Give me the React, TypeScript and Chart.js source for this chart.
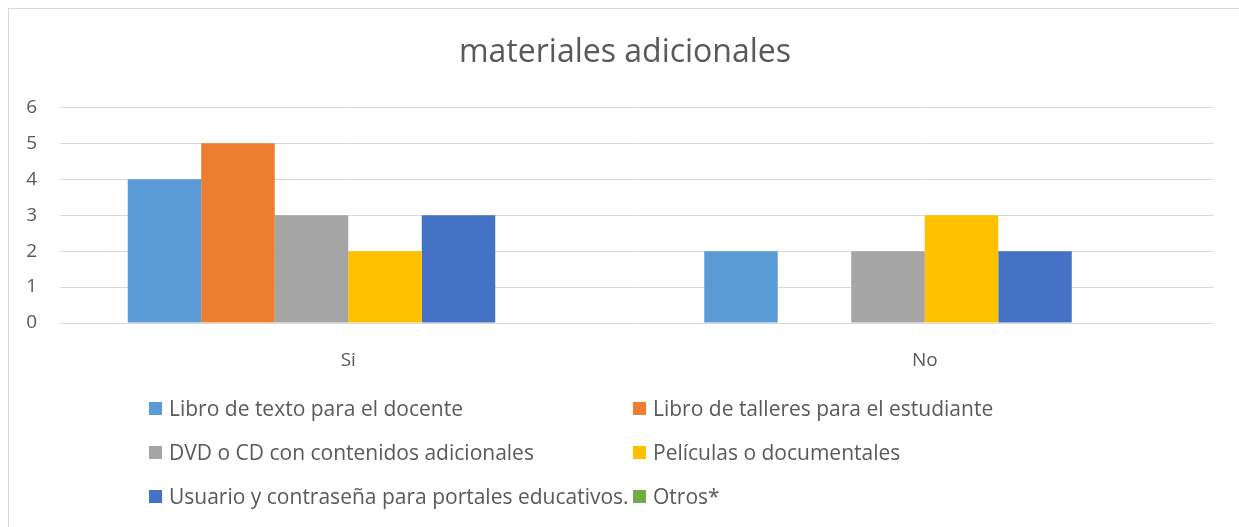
import React, { useEffect, useRef } from "react";
import { Chart, registerables } from "chart.js";

Chart.register(...registerables);

const chartTitle = "materiales adicionales";
const categories = ["Si", "No"];
const seriesNames = [
  "Libro de texto para el docente",
  "Libro de talleres para el estudiante",
  "DVD o CD con contenidos adicionales",
  "Películas o documentales",
  "Usuario y contraseña para portales educativos.",
  "Otros*",
];
const libroTexto = [4, 2];
const libroTalleres = [5, 0];
const dvdCd = [3, 2];
const peliculas = [2, 3];
const usuarioContrasena = [3, 2];
const otros = [0, 0];
const seriesColors = ["#5B9BD5", "#ED7D31", "#A5A5A5", "#FFC000", "#4472C4", "#70AD47"];
const yMin = 0;
const yMax = 6;
const yStep = 1;

const seriesValues = [libroTexto, libroTalleres, dvdCd, peliculas, usuarioContrasena, otros];

const FONT = "'Open Sans', 'DejaVu Sans', sans-serif";
const TEXT = "#595959";

const W = 1231;
const H = 519;

export default function App() {
  const canvasRef = useRef<HTMLCanvasElement | null>(null);

  useEffect(() => {
    const canvas = canvasRef.current;
    if (!canvas) return;
    const chart = new Chart(canvas, {
      type: "bar",
      data: {
        labels: categories,
        datasets: seriesNames.map((name, i) => ({
          label: name,
          data: seriesValues[i],
          backgroundColor: seriesColors[i],
          borderWidth: 0,
          categoryPercentage: 0.765,
          barPercentage: 1,
        })),
      },
      options: {
        animation: false,
        responsive: false,
        maintainAspectRatio: false,
        devicePixelRatio: 1,
        layout: { padding: { left: 3, right: 0, top: 0, bottom: 0 } },
        plugins: {
          legend: { display: false },
          tooltip: { enabled: false },
          title: {
            display: true,
            text: chartTitle,
            color: TEXT,
            font: { family: FONT, size: 32, weight: "normal", lineHeight: 1.2 },
            padding: { top: 26, bottom: 35 },
          },
        },
        scales: {
          x: {
            grid: { display: false },
            border: { display: false },
            ticks: { color: TEXT, font: { family: FONT, size: 19 }, padding: 18 },
            afterFit: (s: any) => {
              s.height = H - 315;
            },
          },
          y: {
            min: yMin,
            max: yMax,
            ticks: { stepSize: yStep, color: TEXT, font: { family: FONT, size: 19 }, padding: 23 },
            grid: { color: "#d9d9d9", lineWidth: 1, drawTicks: false },
            border: { display: false },
            afterFit: (s: any) => {
              s.width = 49;
            },
          },
          yRightSpace: {
            position: "right",
            display: true,
            min: yMin,
            max: yMax,
            grid: { display: false },
            border: { display: false },
            ticks: { display: false },
            afterFit: (s: any) => {
              s.width = 26;
            },
          },
        },
      },
    });
    return () => chart.destroy();
  }, []);

  const legendRows = [
    [0, 1],
    [2, 3],
    [4, 5],
  ];
  const colLeft = [141, 625];
  const rowCenter = [400, 444, 488];

  return (
    <div style={{ position: "fixed", left: 8, top: 8, width: W, height: H, overflow: "hidden" }}>
      <div
        style={{
          position: "absolute",
          left: -1,
          top: -1,
          width: W + 20,
          height: H + 20,
          borderLeft: "2px solid #d9d9d9",
          borderTop: "2px solid #d9d9d9",
          boxSizing: "border-box",
        }}
      />
      <canvas ref={canvasRef} width={W} height={H} style={{ position: "absolute", left: 0, top: 0, width: W, height: H }} />
      {legendRows.map((row, r) =>
        row.map((idx, c) => (
          <div
            key={idx}
            style={{
              position: "absolute",
              left: colLeft[c],
              top: rowCenter[r] - 15,
              height: 30,
              display: "flex",
              alignItems: "center",
              whiteSpace: "nowrap",
              fontFamily: FONT,
              fontSize: 21,
              color: TEXT,
            }}
          >
            <span style={{ display: "inline-block", width: 13, height: 13, background: seriesColors[idx], marginRight: 7 }} />
            <span>{seriesNames[idx]}</span>
          </div>
        ))
      )}
    </div>
  );
}
